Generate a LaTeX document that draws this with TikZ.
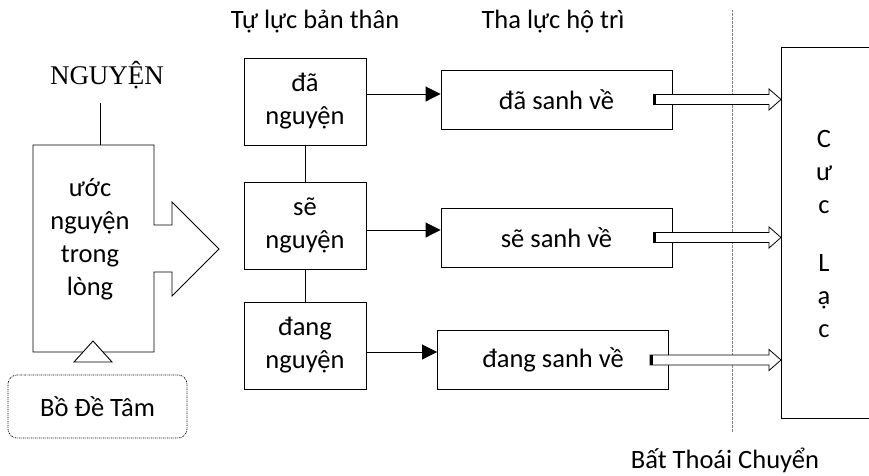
\documentclass[tikz,border=0pt]{standalone}
\usepackage{fontspec}
\setmainfont{Carlito}
\newfontfamily\timesfont{Liberation Serif}
\usetikzlibrary{arrows.meta}
\tikzset{
  box/.style={draw,minimum width=122pt,minimum height=87pt,align=center,inner sep=2pt},
  goal/.style={draw,minimum width=231pt,minimum height=59pt,inner sep=2pt},
  flow/.style={-{Triangle[length=15pt,width=15pt]}},
  dashdot/.style={line width=0.7pt,dash pattern=on 1.5pt off 1pt on 0.5pt off 1pt},
}

\begin{document}
\begin{tikzpicture}[x=1pt,y=-1pt,line width=0.9pt,
    every node/.style={font=\fontsize{26.5}{33}\selectfont}]
  \useasboundingbox (0,0) rectangle (869,475);

  % headings
  \node (tuluc) at (315,22) {Tự lực bản thân};
  \node (thaluc) at (553,22) {Tha lực hộ trì};
  \node (batthoai) at (725,460) {Bất Thoái Chuyển};

  % left block arrow
  \node[font=\timesfont\fontsize{27}{30}\selectfont] (nguyen) at (107,75) {NGUYỆN};
  \coordinate (top) at (100,145);
  \draw ([xshift=-7pt,yshift=-10pt]nguyen.south) -- (top);
  \draw (33,145) -- (154,145) -- (154,225) -- (172,225) -- (172,202) -- (219,249)
    -- (172,296) -- (172,272) -- (154,272) -- (154,352) -- (33,352) -- cycle;
  \node[align=center] (uoc) at (90,239) {ước\\nguyện\\trong\\lòng};
  \draw[fill=white] (93,341) -- (112,362) -- (74,362) -- cycle;
  \node[draw,dashdot,rounded corners=9pt,minimum width=179pt,minimum height=63pt]
    (bode) at (97.5,406.5) {Bồ Đề Tâm};

  % middle column
  \node[box] (m1) at (305,101.5) {đã\\nguyện};
  \node[box] (m2) at (305,225.5) {sẽ\\nguyện};
  \node[box] (m3) at (305,345.5) {đang\\nguyện};
  \draw (m1) -- (m2);
  \draw (m2) -- (m3);

  % right column
  \node[goal] (r1) at (556.5,99.5) {đã sanh về};
  \node[goal] (r2) at (556.5,237.5) {sẽ sanh về};
  \node[goal] (r3) at (553,360) {đang sanh về};

  \foreach \m/\r/\dy in {m1/r1/7.5, m2/r2/-4.5, m3/r3/-6.5}{
    \path ([yshift=\dy pt]\m.east) coordinate (a);
    \draw[flow] (a) -- (a -| \r.west);
  }

  % border line
  \draw[dashdot,gray] (732,10) -- (732,432);

  % Cuc Lac
  \node[minimum width=88pt,minimum height=371pt,anchor=north west] (lac) at (781,47) {};
  \draw (lac.north east) -- (lac.north west) -- (lac.south west) -- (lac.south east);
  \node[align=center] (cuclac) at (824,234) {C\\ư\\c\\[25pt]L\\ạ\\c};

  \foreach \r in {r1,r2,r3}{
    \path ([xshift=-19pt]\r.east) coordinate (s) (s -| lac.west) coordinate (t);
    \draw[line width=0.8pt,fill=white] ([yshift=5pt]s) -- ([xshift=-12pt,yshift=5pt]t)
      -- ([xshift=-12pt,yshift=10.5pt]t) -- (t) -- ([xshift=-12pt,yshift=-10.5pt]t)
      -- ([xshift=-12pt,yshift=-5pt]t) -- ([yshift=-5pt]s) -- cycle;
    \fill ([yshift=5pt]s) rectangle ([xshift=3pt,yshift=-5pt]s);
  }
\end{tikzpicture}
\end{document}
